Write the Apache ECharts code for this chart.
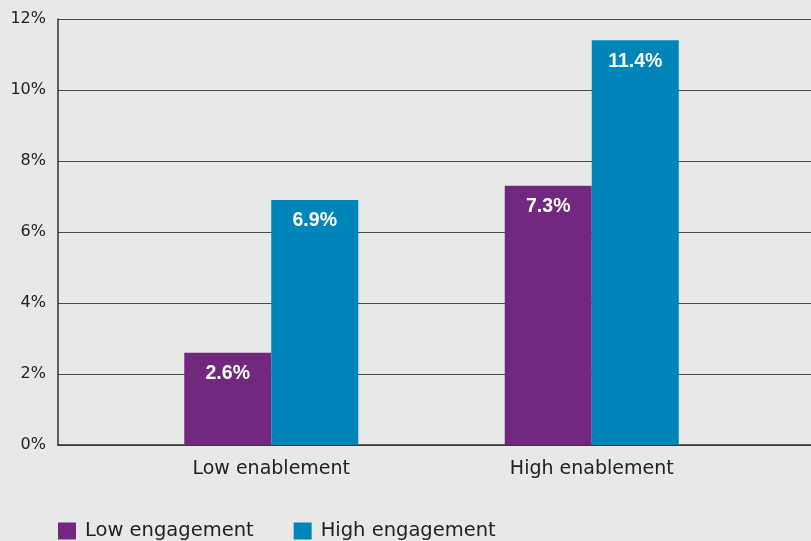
<!DOCTYPE html>
<html>
<head>
<meta charset="utf-8">
<script src="https://cdn.jsdelivr.net/npm/echarts@6/dist/echarts.min.js"></script>
<style>
html,body{margin:0;padding:0;background:#e8e8e8;}
#c{width:811px;height:541px;}
</style>
</head>
<body>
<div id="c"></div>
<script>
const categories = ['Low enablement', 'High enablement'];
const lowEngagement = [2.6, 7.3];
const highEngagement = [6.9, 11.4];
const seriesNames = ['Low engagement', 'High engagement'];
const yTicks = [0, 2, 4, 6, 8, 10, 12];

const font = '"DejaVu Sans", "Liberation Sans", Arial, sans-serif';
const boldFont = '"Liberation Sans", Arial, Helvetica, sans-serif';
const chart = echarts.init(document.getElementById('c'), null, {renderer: 'canvas'});
const labelCfg = {
  show: true, position: 'insideTop', distance: 11,
  color: '#ffffff', fontWeight: 'bold', fontSize: 19.5, fontFamily: boldFont,
  formatter: p => p.value.toFixed(1) + '%'
};
chart.setOption({
  backgroundColor: '#e8e8e8',
  animation: false,
  textStyle: {fontFamily: font},
  legend: {
    data: seriesNames,
    left: 53, top: 516,
    icon: 'rect', itemWidth: 18, itemHeight: 17, itemGap: 40,
    textStyle: {fontSize: 19.5, color: '#222', fontFamily: font, padding: [0, 0, 0, 4]}
  },
  grid: [
    {left: 58, right: 0, top: 19, bottom: 96},
    {left: 111, right: 59, top: 19, bottom: 96}
  ],
  xAxis: [
    {gridIndex: 0, type: 'category', data: [''], axisLine: {show: true, lineStyle: {color: '#333', width: 1.5}},
     axisTick: {show: false}, axisLabel: {show: false}},
    {gridIndex: 1, type: 'category', data: categories, axisLine: {show: false},
     axisTick: {show: false},
     axisLabel: {fontSize: 19, color: '#222', fontFamily: font, margin: 15}}
  ],
  yAxis: [
    {gridIndex: 0, type: 'value', min: yTicks[0], max: yTicks[yTicks.length - 1], interval: 2,
     axisLine: {show: true, lineStyle: {color: '#333', width: 1.5}},
     axisTick: {show: false},
     splitLine: {lineStyle: {color: '#4a4a4a', width: 1.2}},
     axisLabel: {fontSize: 16, color: '#222', fontFamily: font, margin: 12, formatter: v => v + '%'}},
    {gridIndex: 1, type: 'value', min: yTicks[0], max: yTicks[yTicks.length - 1], interval: 2,
     show: false, splitLine: {show: false}}
  ],
  series: [
    {name: seriesNames[0], type: 'bar', xAxisIndex: 1, yAxisIndex: 1, data: lowEngagement,
     barWidth: 87, barGap: '0%', itemStyle: {color: '#73287f'}, label: labelCfg},
    {name: seriesNames[1], type: 'bar', xAxisIndex: 1, yAxisIndex: 1, data: highEngagement,
     barWidth: 87, barGap: '0%', itemStyle: {color: '#0085b8'}, label: labelCfg}
  ]
});
</script>
</body>
</html>
